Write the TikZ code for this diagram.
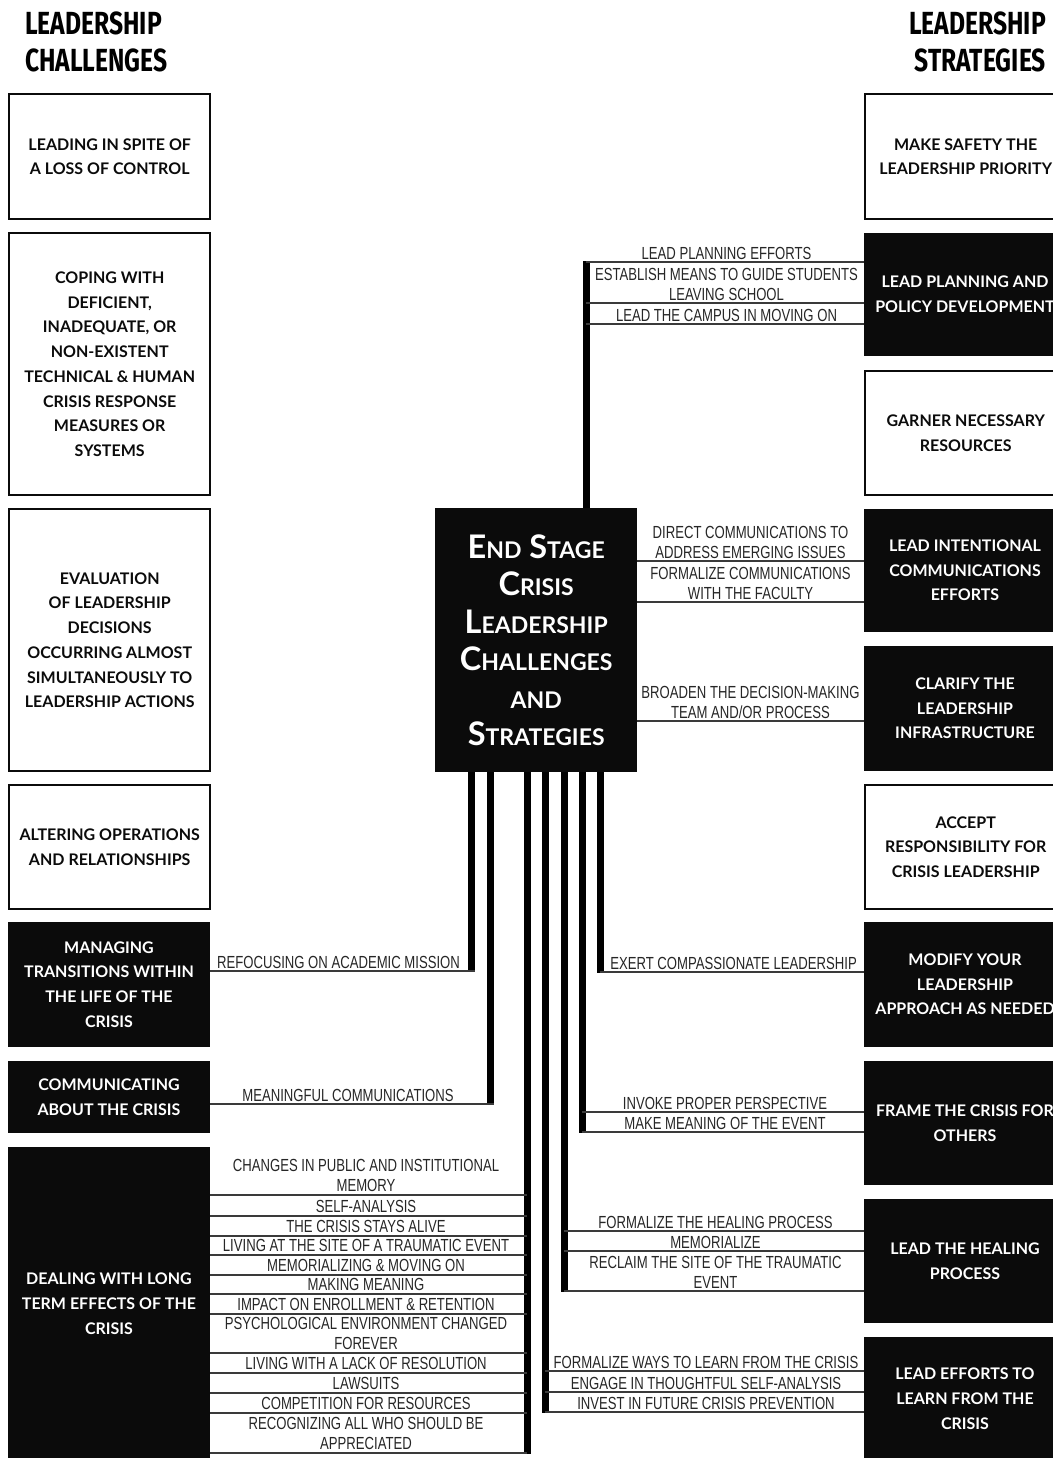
\documentclass[tikz,border=0pt]{standalone}
\usepackage{fontspec}
\setmainfont{Lato}
\newfontfamily\headfont[FakeStretch=0.77]{Fira Sans}
\newfontfamily\boxfont{Lato}
\newfontfamily\tagfont[FakeStretch=0.75]{Liberation Sans}
\newfontfamily\hubfont{Lato}
\definecolor{ink}{HTML}{0B0B0B}
\definecolor{tagink}{HTML}{262626}
\definecolor{rulegray}{HTML}{3A3A3A}
% fake small caps: full-size initial, reduced capitals after it
\newcommand\fsc[2]{#1{\fontsize{23}{37.4}\selectfont #2}}
% two-line label whose baseline is the lower line
\newcommand\twol[2]{\begin{tabular}[b]{@{}c@{}}#1\\#2\end{tabular}}
\begin{document}
\begin{tikzpicture}[x=1pt,y=-1pt,
  box/.style={anchor=north west, minimum width=201pt, inner sep=0pt, align=center,
    font=\boxfont\bfseries\fontsize{16}{24.7}\selectfont},
  wbox/.style={box, draw=ink, line width=2.4pt, fill=white, text=ink},
  bbox/.style={box, draw=ink, line width=1pt, fill=ink, text=white},
  hubbox/.style={anchor=north west, minimum width=202pt, minimum height=264pt, inner sep=0pt,
    align=center, fill=ink, text=white, font=\hubfont\bfseries\fontsize{32.5}{37.4}\selectfont},
  stem/.style={line width=7pt, draw=black},
  rule/.style={line width=1.6pt, draw=rulegray},
  tag/.style={anchor=base, inner sep=0pt, text=tagink,
    font=\tagfont\fontsize{17.5}{19.7}\selectfont},
  head/.style={inner sep=0pt, text=black, font=\headfont\bfseries\fontsize{32}{37}\selectfont}
]
\useasboundingbox (0,0) rectangle (1052,1458);

% column headings
\node[head, anchor=base west] (hl1) at (25,35) {LEADERSHIP};
\node[head, anchor=base west] (hl2) at (25,72) {CHALLENGES};
\node[head, anchor=base east] (hr1) at (1046,35) {LEADERSHIP};
\node[head, anchor=base east] (hr2) at (1046,72) {STRATEGIES};

% challenges (left column)
\node[wbox, minimum height=125pt] (L1) at (8,93) {LEADING IN SPITE OF\\A LOSS OF CONTROL};
\node[wbox, minimum height=262pt] (L2) at (8,232) {COPING WITH\\DEFICIENT,\\INADEQUATE, OR\\NON-EXISTENT\\TECHNICAL \& HUMAN\\CRISIS RESPONSE\\MEASURES OR\\SYSTEMS};
\node[wbox, minimum height=262pt] (L3) at (8,508) {EVALUATION\\OF LEADERSHIP\\DECISIONS\\OCCURRING ALMOST\\SIMULTANEOUSLY TO\\LEADERSHIP ACTIONS};
\node[wbox, minimum height=124pt] (L4) at (8,784) {ALTERING OPERATIONS\\AND RELATIONSHIPS};
\node[bbox, minimum height=124pt] (L5) at (8,922) {MANAGING\\TRANSITIONS WITHIN\\THE LIFE OF THE\\CRISIS};
\node[bbox, minimum height=71pt] (L6) at (8,1061) {COMMUNICATING\\ABOUT THE CRISIS};
\node[bbox, minimum height=312pt] (L7) at (8,1147) {DEALING WITH LONG\\TERM EFFECTS OF THE\\CRISIS};

% strategies (right column, running off the right edge)
\node[wbox, minimum height=125pt] (R1) at (864,93) {MAKE SAFETY THE\\LEADERSHIP PRIORITY};
\node[bbox, minimum height=122pt] (R2) at (864,233) {LEAD PLANNING AND\\POLICY DEVELOPMENT};
\node[wbox, minimum height=124pt] (R3) at (864,370) {GARNER NECESSARY\\RESOURCES};
\node[bbox, minimum height=122pt] (R4) at (864,509) {LEAD INTENTIONAL\\COMMUNICATIONS\\EFFORTS};
\node[bbox, minimum height=124pt] (R5) at (864,646) {CLARIFY THE\\LEADERSHIP\\INFRASTRUCTURE};
\node[wbox, minimum height=124pt] (R6) at (864,784) {ACCEPT\\RESPONSIBILITY FOR\\CRISIS LEADERSHIP};
\node[bbox, minimum height=124pt] (R7) at (864,922) {MODIFY YOUR\\LEADERSHIP\\APPROACH AS NEEDED};
\node[bbox, minimum height=123pt] (R8) at (864,1061) {FRAME THE CRISIS FOR\\OTHERS};
\node[bbox, minimum height=123pt] (R9) at (864,1199) {LEAD THE HEALING\\PROCESS};
\node[bbox, minimum height=122pt] (R10) at (864,1337) {LEAD EFFORTS TO\\LEARN FROM THE\\CRISIS};

% central hub
\node[hubbox] (hub) at (435,508) {\fsc{E}{ND} \fsc{S}{TAGE}\\\fsc{C}{RISIS}\\\fsc{L}{EADERSHIP}\\\fsc{C}{HALLENGES}\\{\fontsize{23}{37.4}\selectfont AND}\\\fsc{S}{TRATEGIES}};

% ---- upward stem to planning and policy ----
\coordinate (a1) at (586,262);
\coordinate (a2) at (586,303);
\coordinate (a3) at (586,324);
\draw[stem] ([yshift=0.8pt]a1) -- (hub.north -| a1);
\foreach \c in {a1,a2,a3} \draw[rule] (\c) -- (R2.west |- \c);
\node[tag] (ta1) at (726.5,259) {LEAD PLANNING EFFORTS};
\node[tag] (ta2) at (726.5,300) {\twol{ESTABLISH MEANS TO GUIDE STUDENTS}{LEAVING SCHOOL}};
\node[tag] (ta3) at (726.5,321) {LEAD THE CAMPUS IN MOVING ON};

% ---- hub to communications efforts ----
\coordinate (b1) at (hub.east |- 0,561);
\coordinate (b2) at (hub.east |- 0,602);
\foreach \c in {b1,b2} \draw[rule] (\c) -- (R4.west |- \c);
\node[tag] (tb1) at (750.5,558) {\twol{DIRECT COMMUNICATIONS TO}{ADDRESS EMERGING ISSUES}};
\node[tag] (tb2) at (750.5,599) {\twol{FORMALIZE COMMUNICATIONS}{WITH THE FACULTY}};

% ---- hub to leadership infrastructure ----
\coordinate (c1) at (hub.east |- 0,721);
\draw[rule] (c1) -- (R5.west |- c1);
\node[tag] (tc1) at (750.5,718) {\twol{BROADEN THE DECISION-MAKING}{TEAM AND/OR PROCESS}};

% ---- downward stems ----
% managing transitions
\coordinate (s1) at (471,971);
\draw[stem] (hub.south -| s1) -- ([yshift=-0.8pt]s1);
\draw[rule] (L5.east |- s1) -- ([xshift=3.5pt]s1);
\node[tag] (ts1) at (338.5,968) {REFOCUSING ON ACADEMIC MISSION};

% communicating about the crisis
\coordinate (s2) at (490,1104);
\draw[stem] (hub.south -| s2) -- ([yshift=-0.8pt]s2);
\draw[rule] (L6.east |- s2) -- ([xshift=3.5pt]s2);
\node[tag] (ts2) at (348,1101) {MEANINGFUL COMMUNICATIONS};

% long term effects
\coordinate (s3) at (527,1453);
\draw[stem] (hub.south -| s3) -- ([yshift=-0.8pt]s3);
\foreach \y in {1195,1216,1236,1255,1275,1294,1314,1353,1373,1393,1413,1453}
  \draw[rule] (L7.east |- 0,\y) -- (527,\y);
\node[tag] (e1) at (366,1191.5) {\twol{CHANGES IN PUBLIC AND INSTITUTIONAL}{MEMORY}};
\node[tag] (e2) at (366,1212.5) {SELF-ANALYSIS};
\node[tag] (e3) at (366,1232.5) {THE CRISIS STAYS ALIVE};
\node[tag] (e4) at (366,1251.5) {LIVING AT THE SITE OF A TRAUMATIC EVENT};
\node[tag] (e5) at (366,1271.5) {MEMORIALIZING \& MOVING ON};
\node[tag] (e6) at (366,1290.5) {MAKING MEANING};
\node[tag] (e7) at (366,1310.5) {IMPACT ON ENROLLMENT \& RETENTION};
\node[tag] (e8) at (366,1349.5) {\twol{PSYCHOLOGICAL ENVIRONMENT CHANGED}{FOREVER}};
\node[tag] (e9) at (366,1369.5) {LIVING WITH A LACK OF RESOLUTION};
\node[tag] (e10) at (366,1389.5) {LAWSUITS};
\node[tag] (e11) at (366,1409.5) {COMPETITION FOR RESOURCES};
\node[tag] (e12) at (366,1449.5) {\twol{RECOGNIZING ALL WHO SHOULD BE}{APPRECIATED}};

% learning from the crisis
\coordinate (s4) at (545,1412);
\draw[stem] (hub.south -| s4) -- ([yshift=-0.8pt]s4);
\foreach \y in {1371,1392,1412} \draw[rule] (545,\y) -- (R10.west |- 0,\y);
\node[tag] (tl1) at (706,1368) {FORMALIZE WAYS TO LEARN FROM THE CRISIS};
\node[tag] (tl2) at (706,1389) {ENGAGE IN THOUGHTFUL SELF-ANALYSIS};
\node[tag] (tl3) at (706,1409) {INVEST IN FUTURE CRISIS PREVENTION};

% healing process
\coordinate (s5) at (564,1291);
\draw[stem] (hub.south -| s5) -- ([yshift=-0.8pt]s5);
\foreach \y in {1231,1251,1291} \draw[rule] (564,\y) -- (R9.west |- 0,\y);
\node[tag] (th1) at (715.5,1228) {FORMALIZE THE HEALING PROCESS};
\node[tag] (th2) at (715.5,1248) {MEMORIALIZE};
\node[tag] (th3) at (715.5,1288) {\twol{RECLAIM THE SITE OF THE TRAUMATIC}{EVENT}};

% framing the crisis
\coordinate (s6) at (582,1132);
\draw[stem] (hub.south -| s6) -- ([yshift=-0.8pt]s6);
\foreach \y in {1112,1132} \draw[rule] (582,\y) -- (R8.west |- 0,\y);
\node[tag] (tf1) at (725,1109) {INVOKE PROPER PERSPECTIVE};
\node[tag] (tf2) at (725,1129) {MAKE MEANING OF THE EVENT};

% modifying the approach
\coordinate (s7) at (600,972);
\draw[stem] (hub.south -| s7) -- ([yshift=-0.8pt]s7);
\draw[rule] (s7) -- (R7.west |- s7);
\node[tag] (tm1) at (733.5,969) {EXERT COMPASSIONATE LEADERSHIP};
\end{tikzpicture}
\end{document}
